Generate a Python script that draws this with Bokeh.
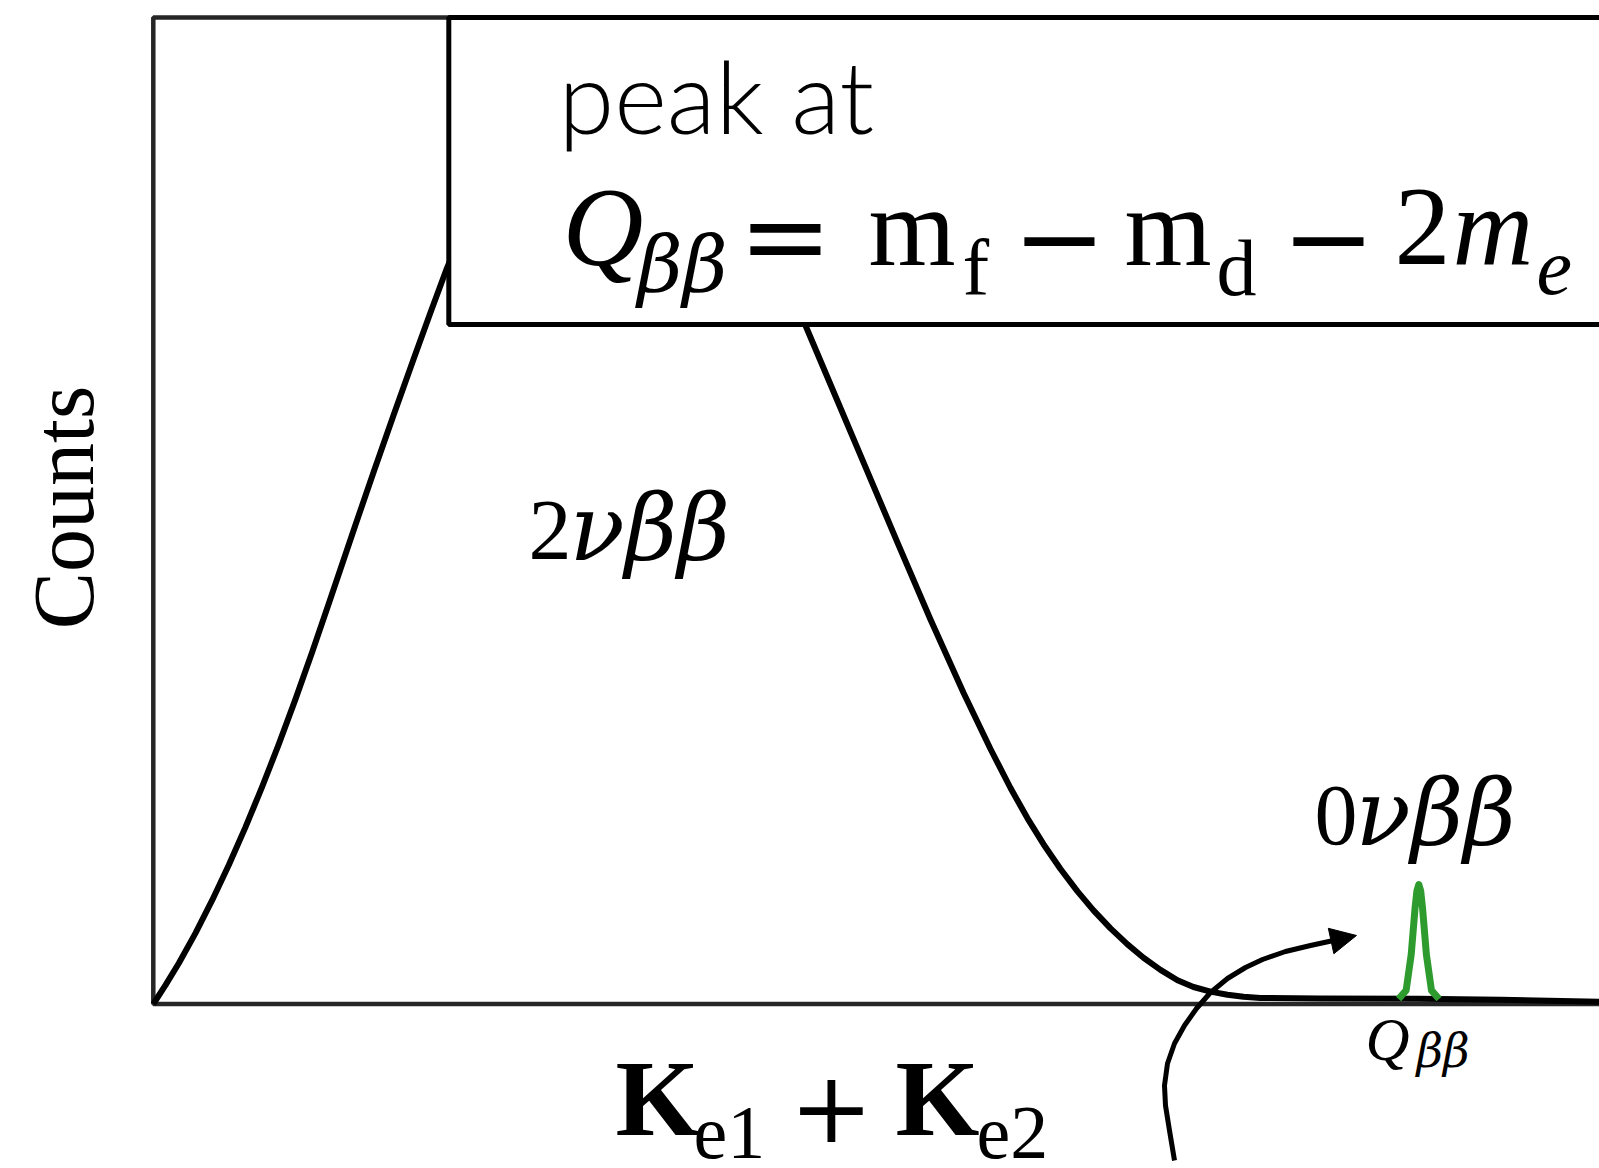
from bokeh.plotting import figure
from bokeh.models import Range1d, Arrow, NormalHead, ColumnDataSource
from bokeh.core.properties import value
from bokeh.embed import file_html
from bokeh.resources import INLINE
import math

# ---------------- data (energy in units of Q_bb, counts normalised to frame height) ----------------
energy = [0.0, 0.00964, 0.02015, 0.03335, 0.04654, 0.05966, 0.07286, 0.08605, 0.09917, 0.11237,
          0.12556, 0.13868, 0.15978, 0.17424, 0.19004, 0.20585, 0.21904, 0.23169,
          0.26, 0.30, 0.34, 0.38, 0.42, 0.46, 0.49,
          0.51537, 0.53513, 0.56120, 0.58807, 0.61414, 0.64022, 0.66156, 0.67736, 0.69080, 0.70344,
          0.71687, 0.73031, 0.74295, 0.75638, 0.76982, 0.78246, 0.79589, 0.80933, 0.82197, 0.83540,
          0.84883, 0.86147, 0.87491, 0.92232, 1.0, 1.0648, 1.15]
counts_2nu = [0.0, 0.01916, 0.04136, 0.07187, 0.10522, 0.14090, 0.17932, 0.22027, 0.26335, 0.30907,
              0.35682, 0.40598, 0.48586, 0.53969, 0.59746, 0.65423, 0.70096, 0.74476,
              0.83, 0.93, 0.975, 0.985, 0.965, 0.90, 0.80,
              0.68779, 0.62798, 0.54901, 0.46771, 0.38976, 0.31546, 0.25849, 0.21896, 0.18824, 0.16199,
              0.13685, 0.11414, 0.09488, 0.07663, 0.06042, 0.04693, 0.03457, 0.02402, 0.01723, 0.01257,
              0.00943, 0.00730, 0.00608, 0.00558, 0.0053, 0.0042, 0.0020]

peak_energy = [0.984, 0.990, 0.994, 0.997, 0.9985, 1.0, 1.0015, 1.003, 1.006, 1.010, 1.016]
peak_counts = [0.005, 0.0138, 0.0502, 0.0966, 0.1145, 0.1211, 0.1145, 0.0966, 0.0502, 0.0138, 0.005]

arrow_x = [0.80695, 0.80300, 0.79984, 0.79905, 0.80142, 0.80695, 0.81485, 0.82434, 0.83540,
           0.84883, 0.86306, 0.87649, 0.89466, 0.91442, 0.93259]
arrow_y = [-0.15864, -0.12823, -0.10289, -0.08262, -0.06031, -0.04004, -0.02179, -0.00456, 0.01166,
           0.02585, 0.03700, 0.04511, 0.05322, 0.05930, 0.06437]
arrow_tip = (0.95077, 0.06944)

# ---------------- layout helpers (page pixels -> data) ----------------
X0, SX = 152.8, 1265.5
Y0, SY = 1003.5, 986.5
def dx(px): return (px - X0) / SX
def dy(py): return (Y0 - py) / SY

W, H = 1599, 1168
p = figure(width=W, height=H, output_backend="svg", toolbar_location=None,
           x_axis_location=None, y_axis_location=None, min_border=0,
           x_range=Range1d(dx(0), dx(W)), y_range=Range1d(dy(H), dy(0)))
p.grid.visible = False
p.outline_line_color = None
p.background_fill_color = "white"
p.border_fill_color = "white"

# frame (left, top, bottom; open on the right)
p.line([1.3, 0, 0, 1.3], [1.0, 1.0, 0.0, 0.0], line_color="#262626", line_width=4.5)

# 2nu bb continuum
p.line(energy, counts_2nu, line_color="black", line_width=6, line_join="round")
# 0nu bb peak
p.line(peak_energy, peak_counts, line_color="#2e9b2e", line_width=7, line_join="round")

# curved arrow
p.line(arrow_x, arrow_y, line_color="black", line_width=5, line_join="round")
p.add_layout(Arrow(end=NormalHead(size=26, fill_color="black", line_color="black", line_width=1),
                   x_start=arrow_x[-1], y_start=arrow_y[-1], x_end=arrow_tip[0], y_end=arrow_tip[1],
                   line_color="black", line_width=5))

# text box
p.quad(left=[dx(448.3)], right=[1.4], bottom=[dy(324)], top=[1.0],
       fill_color="white", line_color="black", line_width=5)

SERIF = value("Liberation Serif")
GREEK = value("DejaVu Serif")
K = 0.36  # baseline correction (fraction of font size)

def txt(pieces, size, style="normal", font=SERIF, angle=0.0, align="left"):
    s = float(size)
    if angle == 0.0:
        xs = [dx(a) for a, b, c in pieces]
        ys = [dy(b - K * s) for a, b, c in pieces]
    else:
        xs = [dx(a - K * s) for a, b, c in pieces]
        ys = [dy(b) for a, b, c in pieces]
    src = ColumnDataSource(dict(x=xs, y=ys, t=[c for a, b, c in pieces]))
    p.text(x="x", y="y", text="t", source=src, text_font=font, text_font_size=f"{size}px",
           text_font_style=style, text_baseline="alphabetic", text_align=align,
           angle=angle, text_color="black")

# box text
txt([(558, 130.5, "peak at")], 101, font=value("Lato Light"))
txt([(562, 267, "Q"), (1452, 267, "m")], 112, "italic")
txt([(637, 293, "ββ")], 78, "italic", font=GREEK)
txt([(1536, 296, "e")], 80, "italic")
txt([(738, 276, "="), (1012, 276, "\u2212"), (1281, 276, "\u2212")], 112, font=GREEK)
txt([(868, 267, "m"), (1124, 267, "m"), (1394, 267, "2")], 112)
txt([(962, 296, "f"), (1216, 296, "d")], 80)

# spectrum labels
txt([(528, 561, "2"), (1314, 846, "0")], 86)
txt([(569, 561, "νββ"), (1355, 846, "νββ")], 91, "italic", font=GREEK)

# Q_bb under the axis
txt([(1365, 1061, "Q")], 61, "italic")
txt([(1416, 1067, "ββ")], 46, "italic", font=GREEK)

# axis titles
txt([(94, 507, "Counts")], 86, angle=math.pi / 2, align="center")
txt([(615, 1137, "K"), (895, 1137, "K")], 108, "bold")
txt([(693, 1160, "e1"), (976, 1160, "e2")], 76)
txt([(789, 1141, "+")], 100, font=GREEK)

open("out.html", "w").write(file_html(p, INLINE))
